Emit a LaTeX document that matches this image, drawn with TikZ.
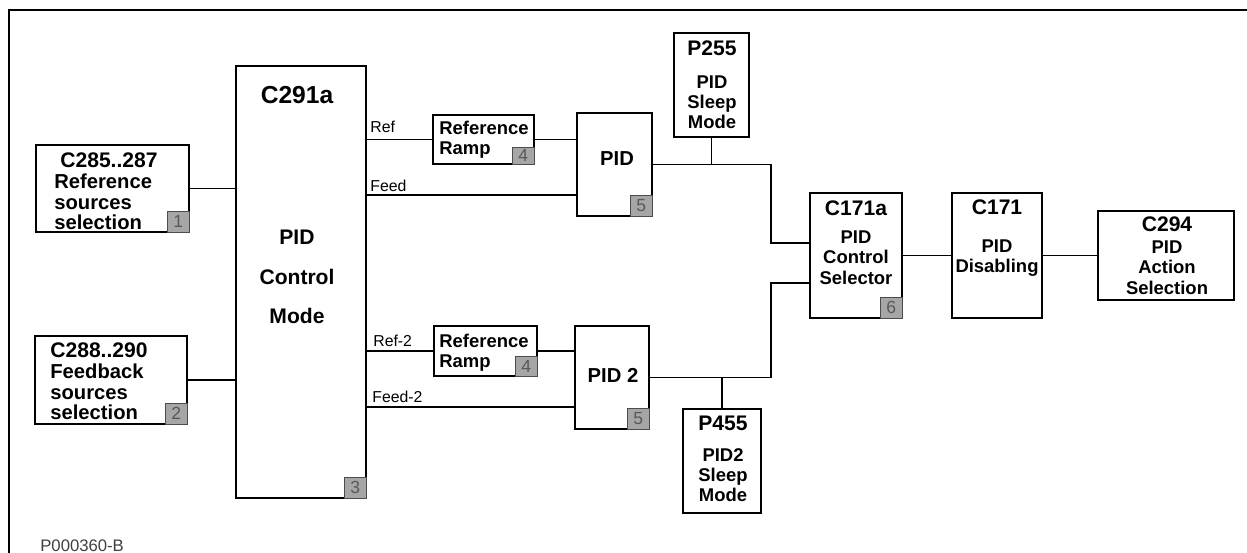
\documentclass[tikz,border=0pt]{standalone}
\usepackage{fontspec}
\setmainfont{Liberation Sans}
\begin{document}
\begin{tikzpicture}[x=0.02cm, y=-0.02cm,
blk/.style={draw=black, line width=0.9pt, inner sep=0pt},
tag/.style={draw=black!70, line width=0.6pt, fill=black!35, text=black!65, font=\fontsize{10}{10}\selectfont, minimum width=0.44cm, minimum height=0.42cm, inner sep=0pt, anchor=south east},
ttl/.style={font=\bfseries\fontsize{12}{14}\selectfont, inner sep=0pt, anchor=base},
txt/.style={font=\bfseries\fontsize{10.5}{11.4}\selectfont, inner sep=0pt, align=center, anchor=north},
sig/.style={font=\fontsize{9}{10}\selectfont, inner sep=0pt, anchor=base west},
wire/.style={line width=0.7pt}]
\useasboundingbox (0,0) rectangle (1247,553);
\draw[line width=0.9pt] (9,553) -- (9,10) -- (1247,10);

\node[blk, minimum width=3.06cm, minimum height=1.74cm](sel1) at (112.5,188.5) {};
\node[blk, minimum width=3.04cm, minimum height=1.76cm](sel2) at (111,380) {};
\node[blk, minimum width=2.6cm, minimum height=8.64cm](mode) at (301,282) {};
\node[blk, minimum width=2.02cm, minimum height=0.98cm](ramp1) at (483.5,139.5) {};
\node[blk, minimum width=2.06cm, minimum height=1.0cm](ramp2) at (485.5,351) {};
\node[blk, minimum width=1.5cm, minimum height=2.06cm](pid1) at (614.5,164.5) {};
\node[blk, minimum width=1.48cm, minimum height=2.06cm](pid2) at (612,377.5) {};
\node[blk, minimum width=1.5cm, minimum height=2.08cm](sleep1) at (711.5,85) {};
\node[blk, minimum width=1.56cm, minimum height=2.08cm](sleep2) at (722,461) {};
\node[blk, minimum width=1.84cm, minimum height=2.5cm](csel) at (856,255.5) {};
\node[blk, minimum width=1.8cm, minimum height=2.5cm](dis) at (997,255.5) {};
\node[blk, minimum width=2.72cm, minimum height=1.78cm](act) at (1166,255.5) {};

\node[ttl, anchor=base west](t1) at (60,168) {C285..287};
\node[txt, anchor=north west, align=left, font=\bfseries\fontsize{11.5}{11.6}\selectfont](x1) at (54,174) {Reference\\sources\\selection};
\node[ttl, anchor=base west](t2) at (50,358) {C288..290};
\node[txt, anchor=north west, align=left, font=\bfseries\fontsize{11.5}{11.6}\selectfont](x2) at (50,364) {Feedback\\sources\\selection};
\node[ttl, font=\bfseries\fontsize{14}{16}\selectfont](t3) at (297,104) {C291a};
\node[txt, font=\bfseries\fontsize{12}{22.4}\selectfont](x3) at (297,230) {PID\\Control\\Mode};
\node[txt, anchor=north west, align=left, font=\bfseries\fontsize{10.5}{11.3}\selectfont](x4) at (439,121) {Reference\\Ramp};
\node[txt, anchor=north west, align=left, font=\bfseries\fontsize{10.5}{11.3}\selectfont](x5) at (439,334) {Reference\\Ramp};
\node[ttl, font=\bfseries\fontsize{11.5}{13}\selectfont](t6) at (617,166) {PID};
\node[ttl, font=\bfseries\fontsize{11.5}{13}\selectfont](t7) at (613,383) {PID 2};
\node[ttl](t8) at (712,56) {P255};
\node[txt](x8) at (712,75) {PID\\Sleep\\Mode};
\node[ttl](t9) at (723,431) {P455};
\node[txt](x9) at (723,448) {PID2\\Sleep\\Mode};
\node[ttl](t10) at (856,216) {C171a};
\node[txt, font=\bfseries\fontsize{10.5}{11.9}\selectfont](x10) at (856,230) {PID\\Control\\Selector};
\node[ttl](t11) at (997,215) {C171};
\node[txt](x11) at (997,239) {PID\\Disabling};
\node[ttl](t12) at (1167,232) {C294};
\node[txt, font=\bfseries\fontsize{10.5}{11.9}\selectfont](x12) at (1167,240) {PID\\Action\\Selection};

\node[tag](b1) at (sel1.south east) {1};
\node[tag](b2) at (sel2.south east) {2};
\node[tag](b3) at (mode.south east) {3};
\node[tag, minimum height=0.34cm](b4) at (ramp1.south east) {4};
\node[tag, minimum height=0.4cm](b5) at (ramp2.south east) {4};
\node[tag](b6) at (pid1.south east) {5};
\node[tag](b7) at (pid2.south east) {5};
\node[tag](b8) at (csel.south east) {6};

\node[sig](ref1) at (370,133) {Ref};
\node[sig](feed1) at (370,192) {Feed};
\node[sig](ref2) at (373,347) {Ref-2};
\node[sig](feed2) at (372,403) {Feed-2};
\node[sig, font=\fontsize{9.5}{10}\selectfont, text=black!75](code) at (40,551) {P000360-B};

\coordinate (f1) at (0,195);
\coordinate (f2) at (0,407);
\coordinate (j1) at (771,243);
\coordinate (j2) at (771,283);

\draw[wire] (sel1.east) -- (sel1.east -| mode.west);
\draw[wire] (sel2.east) -- (sel2.east -| mode.west);

\draw[wire] (ramp1.west -| mode.east) -- (ramp1.west);
\draw[wire] (ramp1.east) -- (ramp1.east -| pid1.west);
\draw[wire] (mode.east |- f1) -- (pid1.west |- f1);
\draw[wire] (ramp2.west -| mode.east) -- (ramp2.west);
\draw[wire] (ramp2.east) -- (ramp2.east -| pid2.west);
\draw[wire] (mode.east |- f2) -- (pid2.west |- f2);

\draw[wire] (pid1.east) -| (j1) -- (j1 -| csel.west);
\draw[wire] (sleep1.south) -- (sleep1.south |- pid1.east);
\draw[wire] (pid2.east) -| (j2) -- (j2 -| csel.west);
\draw[wire] (sleep2.north) -- (sleep2.north |- pid2.east);

\draw[wire] (csel) -- (dis);
\draw[wire] (dis) -- (act);

\end{tikzpicture}
\end{document}
